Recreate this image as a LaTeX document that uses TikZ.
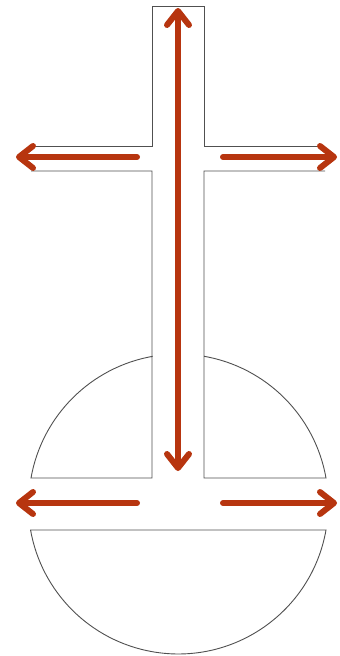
\documentclass[tikz,border=0pt]{standalone}
\usepackage{tikz}
\usetikzlibrary{arrows.meta}
\definecolor{Rust}{HTML}{B7350F}
\definecolor{Outline}{HTML}{505050}

\begin{document}
\begin{tikzpicture}[x=1pt, y=-1pt]
\tikzset{outline/.style={draw=Outline, line width=0.9pt}, push/.style={draw=Rust, line width=6pt, line cap=round, -{Straight Barb[length=14pt, width=22pt, round]}}, pushboth/.style={push, {Straight Barb[length=14pt, width=22pt, round]}-{Straight Barb[length=14pt, width=22pt, round]}}}
\useasboundingbox (0,0) rectangle (340,656);
% cross and split circle
\draw[outline] (31,146) -- (152,146) -- (152,6) -- (204,6) -- (204,146) -- (325,146);
\draw[outline] (31,171) -- (152,171) -- (152,478) -- (31,478) arc[start angle=-170, end angle=-100, radius=150];
\draw[outline] (325,171) -- (204,171) -- (204,478) -- (326,478) arc[start angle=-10, end angle=-80, radius=150];
\draw[outline] (31,530) -- (326,530) arc[start angle=10, end angle=170, radius=150] -- cycle;
% arrows
\coordinate (top) at (178,8); \coordinate (bottom) at (178,471);
\coordinate (barL) at (137,157); \coordinate (barLend) at (16,157);
\coordinate (barR) at (223,157); \coordinate (barRend) at (337,157);
\coordinate (gapL) at (137,503); \coordinate (gapLend) at (16,503);
\coordinate (gapR) at (223,503); \coordinate (gapRend) at (337,503);
\draw[pushboth] (bottom) -- (top);
\draw[push] (barL) -- (barLend); \draw[push] (barR) -- (barRend);
\draw[push] (gapL) -- (gapLend); \draw[push] (gapR) -- (gapRend);
\end{tikzpicture}
\end{document}
